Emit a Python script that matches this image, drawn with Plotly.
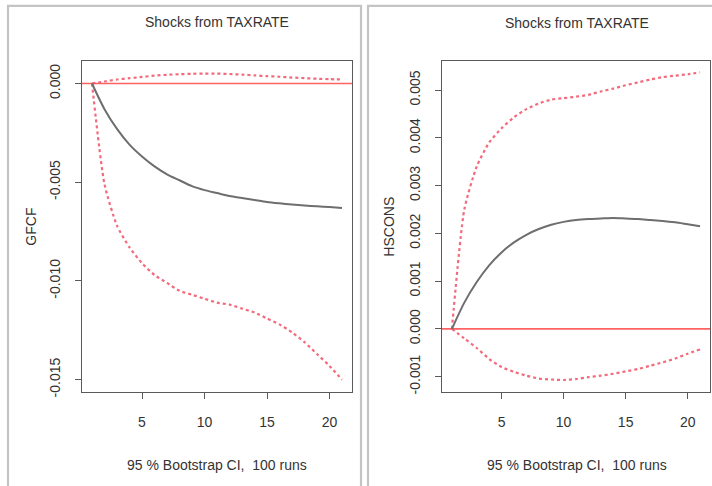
import plotly.graph_objects as go

steps = list(range(1, 22))

gfcf_irf = [0, -0.0013, -0.0023, -0.0031, -0.0037, -0.0042, -0.0046, -0.0049, -0.0052, -0.0054,
            -0.00555, -0.0057, -0.0058, -0.0059, -0.0060, -0.00607, -0.00613, -0.00618, -0.00622, -0.00626, -0.0063]
gfcf_upper = [0, 0.0001, 0.0002, 0.00027, 0.00033, 0.0004, 0.00044, 0.00047, 0.00049, 0.0005,
              0.0005, 0.00048, 0.00045, 0.00041, 0.00037, 0.00034, 0.0003, 0.00027, 0.00024, 0.00022, 0.0002]
gfcf_lower = [0, -0.0051, -0.0072, -0.0083, -0.0091, -0.0097, -0.0101, -0.0105, -0.0107, -0.0109,
              -0.0111, -0.0112, -0.0114, -0.0116, -0.0119, -0.0122, -0.0126, -0.0131, -0.0137, -0.0143, -0.0150]

hscons_irf = [0, 0.00055, 0.00098, 0.00133, 0.0016, 0.00181, 0.00197, 0.00209, 0.00218, 0.00224,
              0.00228, 0.0023, 0.00231, 0.00232, 0.00231, 0.0023, 0.00228, 0.00226, 0.00223, 0.00219, 0.00215]
hscons_upper = [0, 0.0025, 0.0034, 0.0039, 0.0042, 0.00443, 0.0046, 0.00472, 0.0048, 0.00483,
                0.00486, 0.0049, 0.00497, 0.00503, 0.0051, 0.00516, 0.00522, 0.00527, 0.0053, 0.00533, 0.00537]
hscons_lower = [0, -0.0002, -0.0004, -0.00063, -0.0008, -0.0009, -0.00098, -0.00104, -0.00106, -0.00107,
                -0.00105, -0.00101, -0.00098, -0.00094, -0.00089, -0.00084, -0.00077, -0.0007, -0.00062, -0.00052, -0.00043]

x_ticks = [5, 10, 15, 20]
gfcf_ticks = [0.0, -0.005, -0.010, -0.015]
gfcf_ticklabels = ["0.000", "-0.005", "-0.010", "-0.015"]
hscons_ticks = [-0.001, 0.0, 0.001, 0.002, 0.003, 0.004, 0.005]
hscons_ticklabels = ["-0.001", "0.000", "0.001", "0.002", "0.003", "0.004", "0.005"]

title_text = "Shocks from TAXRATE"
xlabel_text = "95 % Bootstrap CI,  100 runs"

W, H = 712, 486
FONT = "Liberation Sans, Arial, sans-serif"
TXT = "#333333"
GRAY = "#6e6e6e"
RED = "rgba(255,70,70,0.85)"
DOT = "rgba(240,80,100,0.85)"

fig = go.Figure()

def add_panel(xa, ya, irf, up, lo):
    xr = "x" if xa == 1 else f"x{xa}"
    yr = "y" if ya == 1 else f"y{ya}"
    fig.add_trace(go.Scatter(x=[0.2, 21.8], y=[0, 0], mode="lines", xaxis=xr, yaxis=yr,
                             line=dict(color=RED, width=1.6), showlegend=False, hoverinfo="skip"))
    fig.add_trace(go.Scatter(x=steps, y=up, mode="lines", xaxis=xr, yaxis=yr,
                             line=dict(color=DOT, width=2.2, dash="dot", shape="spline", smoothing=0.6),
                             showlegend=False))
    fig.add_trace(go.Scatter(x=steps, y=lo, mode="lines", xaxis=xr, yaxis=yr,
                             line=dict(color=DOT, width=2.2, dash="dot", shape="spline", smoothing=0.6),
                             showlegend=False))
    fig.add_trace(go.Scatter(x=steps, y=irf, mode="lines", xaxis=xr, yaxis=yr,
                             line=dict(color=GRAY, width=2, shape="spline", smoothing=0.8),
                             showlegend=False))

add_panel(1, 1, gfcf_irf, gfcf_upper, gfcf_lower)
add_panel(2, 2, hscons_irf, hscons_upper, hscons_lower)

ydom = [(486 - 396) / H, (486 - 62) / H]
axis_common = dict(showgrid=False, zeroline=False, showline=True, linecolor="#5a5a5a",
                   linewidth=1.2, mirror=True, ticks="outside", ticklen=6, tickcolor="#5a5a5a",
                   tickfont=dict(family=FONT, size=14, color=TXT))

xr = [0.2, 21.8]
fig.update_layout(
    width=W, height=H, margin=dict(l=0, r=0, t=0, b=0),
    paper_bgcolor="white", plot_bgcolor="white",
    xaxis=dict(domain=[82 / W, 352 / W], range=xr, tickvals=x_ticks, anchor="y",
               ticklabelstandoff=11, **axis_common),
    yaxis=dict(domain=ydom, range=[-0.01562, 0.00112], tickvals=gfcf_ticks,
               ticktext=gfcf_ticklabels, tickangle=-90, anchor="x", ticklabelstandoff=9,
               **axis_common),
    xaxis2=dict(domain=[442 / W, 710 / W], range=xr, tickvals=x_ticks, anchor="y2",
                ticklabelstandoff=11, **axis_common),
    yaxis2=dict(domain=ydom, range=[-0.00132, 0.0056], tickvals=hscons_ticks,
                ticktext=hscons_ticklabels, tickangle=-90, anchor="x2", ticklabelstandoff=9,
                **axis_common),
)

# outer panel frames
FRAME = "#c4c4c4"
fig.add_shape(type="rect", xref="paper", yref="paper",
              x0=8 / W, x1=361 / W, y0=-0.05, y1=(486 - 6) / H,
              line=dict(color=FRAME, width=2.2), layer="below")
fig.add_shape(type="rect", xref="paper", yref="paper",
              x0=368 / W, x1=1.05, y0=-0.05, y1=(486 - 6) / H,
              line=dict(color=FRAME, width=2.2), layer="below")

def ann(x, y, text, angle=0):
    fig.add_annotation(x=x / W, y=(486 - y) / H, xref="paper", yref="paper", text=text,
                       showarrow=False, textangle=angle, xanchor="center", yanchor="middle",
                       font=dict(family=FONT, size=14, color=TXT))

ann(217, 22, title_text)
ann(577, 23, title_text)
ann(217, 470, xlabel_text)
ann(577, 470, xlabel_text)
ann(31, 229, "GFCF", -90)
ann(389, 229, "HSCONS", -90)

fig.write_html("out.html")
